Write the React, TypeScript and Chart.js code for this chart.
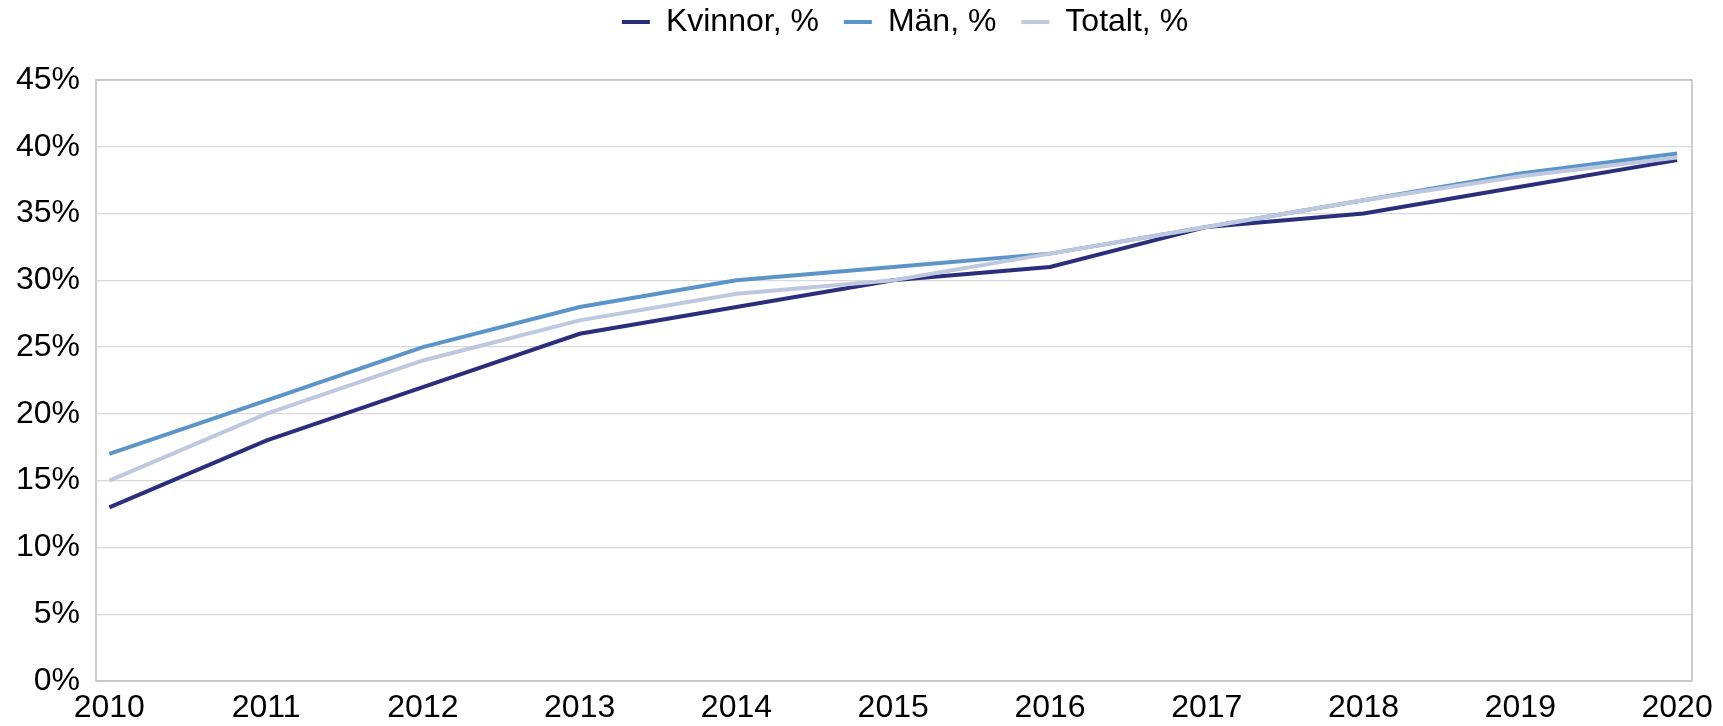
import React, { useEffect, useRef } from "react";
import { Chart, registerables } from "chart.js";

Chart.register(...registerables);

const years = [2010, 2011, 2012, 2013, 2014, 2015, 2016, 2017, 2018, 2019, 2020];
const kvinnor = [13, 18, 22, 26, 28, 30, 31, 34, 35, 37, 39];
const man = [17, 21, 25, 28, 30, 31, 32, 34, 36, 38, 39.5];
const totalt = [15, 20, 24, 27, 29, 30, 32, 34, 36, 37.8, 39.2];
const seriesNames = ["Kvinnor, %", "Män, %", "Totalt, %"];
const yTicks = [0, 5, 10, 15, 20, 25, 30, 35, 40, 45];

const colors = ["#2B2F7B", "#5B94C9", "#BEC8DE"];
const FONT = "'Liberation Sans', Arial, sans-serif";

const frame = {
  id: "frame",
  beforeInit(chart: any) {
    const lg = chart.legend;
    if (lg && !lg.__patched) {
      const origFit = lg.fit;
      lg.fit = function () {
        origFit.call(this);
        this.height = 80;
        this.minSize = { width: this.width, height: 80 };
      };
      const origDraw = lg.draw;
      lg.draw = function () {
        const t = this.top, l = this.left, r = this.right;
        this.top = t - 19;
        this.left = l + 11;
        this.right = r + 11;
        origDraw.call(this);
        this.top = t;
        this.left = l;
        this.right = r;
      };
      lg.__patched = true;
    }
  },
  beforeDatasetsDraw(chart: any) {
    const { ctx, chartArea } = chart;
    ctx.save();
    ctx.strokeStyle = "#BFBFBF";
    ctx.lineWidth = 1.5;
    ctx.strokeRect(chartArea.left, chartArea.top, chartArea.right - chartArea.left, chartArea.bottom - chartArea.top);
    ctx.restore();
  },
};

export default function App() {
  const ref = useRef<HTMLCanvasElement | null>(null);
  useEffect(() => {
    document.body.style.margin = "0";
    const all = [kvinnor, man, totalt];
    const chart = new Chart(ref.current as HTMLCanvasElement, {
      type: "line",
      data: {
        datasets: all.map((s, i) => ({
          label: seriesNames[i],
          data: s.map((v, j) => ({ x: years[j], y: v })),
          borderColor: colors[i],
          backgroundColor: colors[i],
          borderWidth: 4,
          pointRadius: 0,
          tension: 0,
          order: 3 - i,
        })),
      },
      plugins: [frame],
      options: {
        animation: false,
        responsive: true,
        maintainAspectRatio: false,
        layout: { padding: { left: 0, right: 31, top: 0, bottom: 0 } },
        plugins: {
          tooltip: { enabled: false },
          legend: {
            position: "top",
            fullSize: false,
            labels: {
              color: "#000",
              font: { family: FONT, size: 32 },
              boxWidth: 28,
              boxHeight: 4,
              padding: 25,
              sort: (a: any, b: any) => a.datasetIndex - b.datasetIndex,
              generateLabels: (chart: any) =>
                chart.data.datasets.map((d: any, i: number) => ({
                  text: d.label,
                  fillStyle: d.borderColor,
                  strokeStyle: d.borderColor,
                  lineWidth: 0,
                  hidden: false,
                  datasetIndex: i,
                  fontColor: "#000",
                })),
            },
          },
        },
        scales: {
          x: {
            type: "linear",
            min: 2009.915,
            max: 2020.095,
            grid: { display: false, drawTicks: false },
            border: { display: false },
            ticks: {
              stepSize: 1,
              includeBounds: false,
              autoSkip: false,
              maxRotation: 0,
              padding: 8,
              color: "#000",
              font: { family: FONT, size: 32 },
              callback: (v: any) => String(v),
            },
            afterFit: (s: any) => {
              s.height = 45;
            },
          },
          y: {
            min: 0,
            max: 45,
            grid: { color: "#D9D9D9", lineWidth: 1.3, drawTicks: false },
            border: { display: false },
            ticks: {
              stepSize: 5,
              padding: 16,
              color: "#000",
              font: { family: FONT, size: 32 },
              callback: (v: any) => (yTicks.includes(v) ? v + "%" : ""),
            },
            afterFit: (s: any) => {
              s.width = 96;
            },
          },
        },
      },
    });
    return () => chart.destroy();
  }, []);
  return (
    <div style={{ width: 1723, height: 726, position: "relative" }}>
      <canvas ref={ref} />
    </div>
  );
}
